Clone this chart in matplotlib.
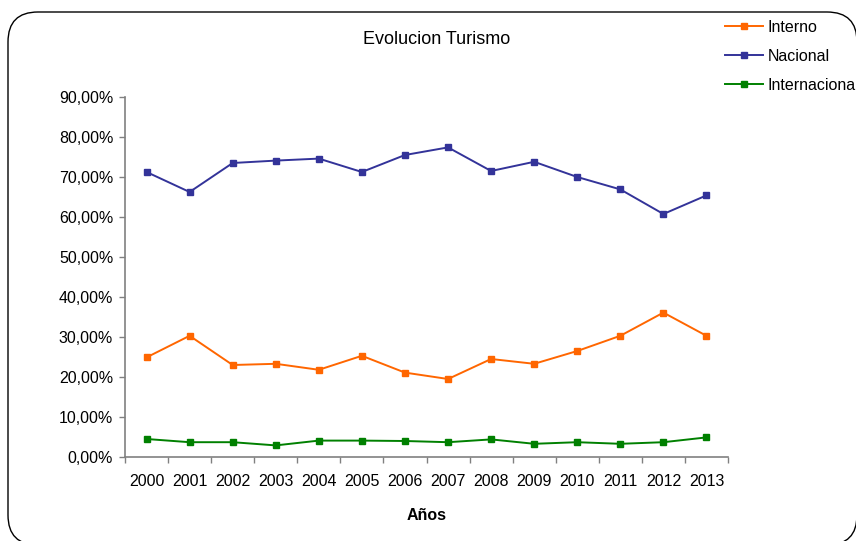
import matplotlib
matplotlib.use("Agg")
import matplotlib.pyplot as plt
from matplotlib.patches import FancyBboxPatch
from matplotlib.ticker import FuncFormatter, FixedLocator

years = ["2000", "2001", "2002", "2003", "2004", "2005", "2006",
         "2007", "2008", "2009", "2010", "2011", "2012", "2013"]
interno = [24.9, 30.3, 23.0, 23.3, 21.8, 25.3, 21.1, 19.5, 24.5, 23.3, 26.5, 30.3, 36.1, 30.3]
nacional = [71.25, 66.25, 73.5, 74.1, 74.6, 71.25, 75.5, 77.4, 71.5, 73.8, 70.0, 66.9, 60.75, 65.4]
internacional = [4.5, 3.7, 3.7, 2.9, 4.1, 4.1, 4.0, 3.7, 4.4, 3.3, 3.7, 3.3, 3.7, 4.9]

W, H = 856, 541
fig = plt.figure(figsize=(W / 100, H / 100), dpi=100)
plt.rcParams['font.family'] = ['Liberation Sans', 'DejaVu Sans']

# rounded chart border
border = FancyBboxPatch((8 / W, 1 - 545 / H), (857 - 8) / W, (545 - 12) / H,
                        boxstyle="round,pad=0,rounding_size=0.035",
                        transform=fig.transFigure, facecolor='none',
                        edgecolor='black', linewidth=1.0, mutation_aspect=W / H,
                        zorder=-1)
fig.patches.append(border)

ax_l, ax_r, ax_t, ax_b = 125, 728, 97, 457
ax = fig.add_axes([ax_l / W, 1 - ax_b / H, (ax_r - ax_l) / W, (ax_b - ax_t) / H])
ax.set_facecolor('none')

x = list(range(len(years)))
colors = {'Interno': '#FF6600', 'Nacional': '#333399', 'Internacional': '#008000'}
for name, vals in [('Interno', interno), ('Nacional', nacional), ('Internacional', internacional)]:
    ax.plot(x, vals, color=colors[name], marker='s', markersize=4.5, linewidth=1.4, label=name)

ax.set_xlim(-0.5, len(years) - 0.5)
ax.set_ylim(0, 90)
ax.set_yticks(range(0, 91, 10))
ax.yaxis.set_major_formatter(FuncFormatter(lambda v, p: f"{v:.2f}".replace('.', ',') + "%"))
ax.set_xticks(x)
ax.set_xticklabels(years)
ax.xaxis.set_minor_locator(FixedLocator([i - 0.5 for i in range(len(years) + 1)]))
ax.tick_params(axis='x', which='major', length=0, labelsize=11.5, pad=12)
ax.tick_params(axis='x', which='minor', length=4.5, color='#808080', width=1)
ax.tick_params(axis='y', length=4.5, color='#808080', width=1, labelsize=11.5, pad=4)
for s in ['top', 'right']:
    ax.spines[s].set_visible(False)
for s in ['left', 'bottom']:
    ax.spines[s].set_color('#808080')
    ax.spines[s].set_linewidth(1.2)

ax.set_xlabel("Años", fontsize=11.5, fontweight='bold', labelpad=14)
fig.text(437 / W, 1 - 40 / H, "Evolucion Turismo", ha='center', va='center', fontsize=13)

leg = fig.legend(loc='upper left', bbox_to_anchor=(725 / W, 1 - 20 / H),
                 frameon=False, fontsize=11.5, handlelength=2.35, handletextpad=0.3,
                 labelspacing=0.87, borderaxespad=0, borderpad=0)

fig.savefig("out.png", dpi=100)
